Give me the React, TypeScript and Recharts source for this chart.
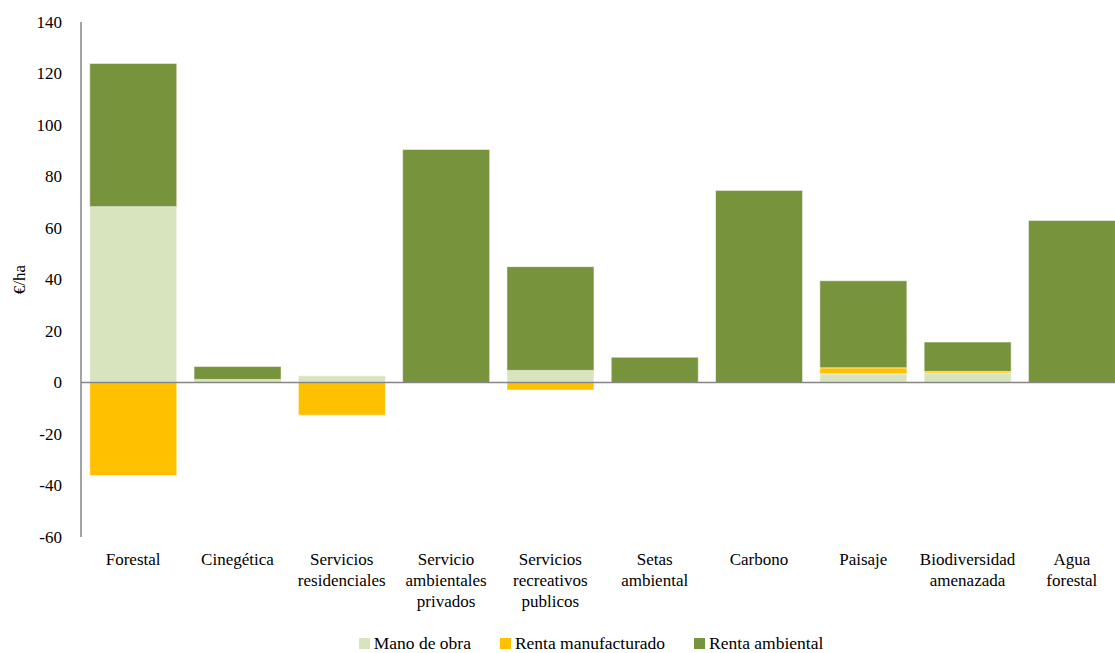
import React from 'react';
import { BarChart, Bar, XAxis, YAxis, ReferenceLine, Legend } from 'recharts';

const categories = [
  'Forestal',
  'Cinegética',
  'Servicios\nresidenciales',
  'Servicio\nambientales\nprivados',
  'Servicios\nrecreativos\npublicos',
  'Setas\nambiental',
  'Carbono',
  'Paisaje',
  'Biodiversidad\namenazada',
  'Agua\nforestal',
];

const manoDeObra = [68.3, 1.2, 2.6, 0, 4.7, 0, 0, 3.4, 3.7, 0];
const rentaManufacturado = [-36.1, 0, -12.7, 0, -2.9, 0, 0, 2.3, 0.6, 0];
const rentaAmbiental = [55.6, 5.0, 0, 90.5, 40.3, 9.8, 74.6, 33.8, 11.4, 62.9];

const yTicks = [-60, -40, -20, 0, 20, 40, 60, 80, 100, 120, 140];

const seriesNames = ['Mano de obra', 'Renta manufacturado', 'Renta ambiental'];
const seriesColors = ['#D7E4BD', '#FFC000', '#77933C'];

const data = categories.map((c, i) => ({
  name: c,
  mano: manoDeObra[i],
  manuf: rentaManufacturado[i],
  amb: rentaAmbiental[i],
}));

const FONT = '"Liberation Serif", "Times New Roman", serif';
const FS = 17;

const CatTick = (props: any) => {
  const { x, y, payload } = props;
  const lines = String(payload.value).split('\n');
  return (
    <text x={x} y={y} textAnchor="middle" fill="#000" style={{ fontFamily: FONT, fontSize: FS }}>
      {lines.map((l, i) => (
        <tspan key={i} x={x} dy={i === 0 ? 28 : 21}>
          {l}
        </tspan>
      ))}
    </text>
  );
};

const ValTick = (props: any) => {
  const { x, y, payload } = props;
  return (
    <text x={x} y={y} textAnchor="end" dominantBaseline="central" fill="#000" style={{ fontFamily: FONT, fontSize: FS }}>
      {payload.value}
    </text>
  );
};

const YLabel = (props: any) => {
  const vb = props.viewBox || {};
  const cx = 21;
  const cy = (vb.y || 0) + (vb.height || 0) / 2;
  return (
    <text
      x={cx}
      y={cy}
      transform={`rotate(-90 ${cx} ${cy})`}
      textAnchor="middle"
      dominantBaseline="middle"
      fill="#000"
      style={{ fontFamily: FONT, fontSize: FS }}
    >
      €/ha
    </text>
  );
};

const LegendContent = () => (
  <div
    style={{
      display: 'flex',
      justifyContent: 'center',
      alignItems: 'center',
      fontFamily: FONT,
      fontSize: 17.5,
      color: '#000',
      lineHeight: '20px',
      height: 20,
    }}
  >
    {seriesNames.map((n, i) => (
      <div key={n} style={{ display: 'flex', alignItems: 'center', marginRight: i < 2 ? 29 : 0 }}>
        <span
          style={{
            display: 'inline-block',
            width: 11,
            height: 11,
            background: seriesColors[i],
            marginRight: 4,
          }}
        />
        <span>{n}</span>
      </div>
    ))}
  </div>
);

export default function App() {
  return (
    <div
      style={{
        position: 'absolute',
        left: 0,
        top: 0,
        width: 1115,
        height: 653,
        overflow: 'hidden',
        background: '#fff',
      }}
    >
      <BarChart
        width={1124}
        height={653}
        data={data}
        stackOffset="sign"
        barCategoryGap="8.4%"
        margin={{ top: 22, right: 0, left: 0, bottom: 6 }}
      >
        <XAxis
          dataKey="name"
          axisLine={false}
          tickLine={false}
          tickSize={0}
          tickMargin={0}
          height={90}
          interval={0}
          tick={<CatTick />}
        />
        <YAxis
          width={81}
          domain={[-60, 140]}
          ticks={yTicks}
          interval={0}
          tickLine={false}
          tickSize={0}
          tickMargin={19}
          axisLine={{ stroke: '#868686', strokeWidth: 1.5 }}
          tick={<ValTick />}
          label={<YLabel />}
        />
        <ReferenceLine y={0} stroke="#868686" strokeWidth={1.5} ifOverflow="extendDomain" />
        <Legend
          verticalAlign="bottom"
          content={<LegendContent />}
          wrapperStyle={{ left: 81, width: 1020, height: 20, top: 633 }}
        />
        <Bar dataKey="mano" name={seriesNames[0]} stackId="a" fill={seriesColors[0]} stroke="rgba(255,255,255,0.5)" strokeWidth={1} isAnimationActive={false} />
        <Bar dataKey="manuf" name={seriesNames[1]} stackId="a" fill={seriesColors[1]} stroke="rgba(255,255,255,0.5)" strokeWidth={1} isAnimationActive={false} />
        <Bar dataKey="amb" name={seriesNames[2]} stackId="a" fill={seriesColors[2]} stroke="rgba(255,255,255,0.5)" strokeWidth={1} isAnimationActive={false} />
      </BarChart>
    </div>
  );
}
